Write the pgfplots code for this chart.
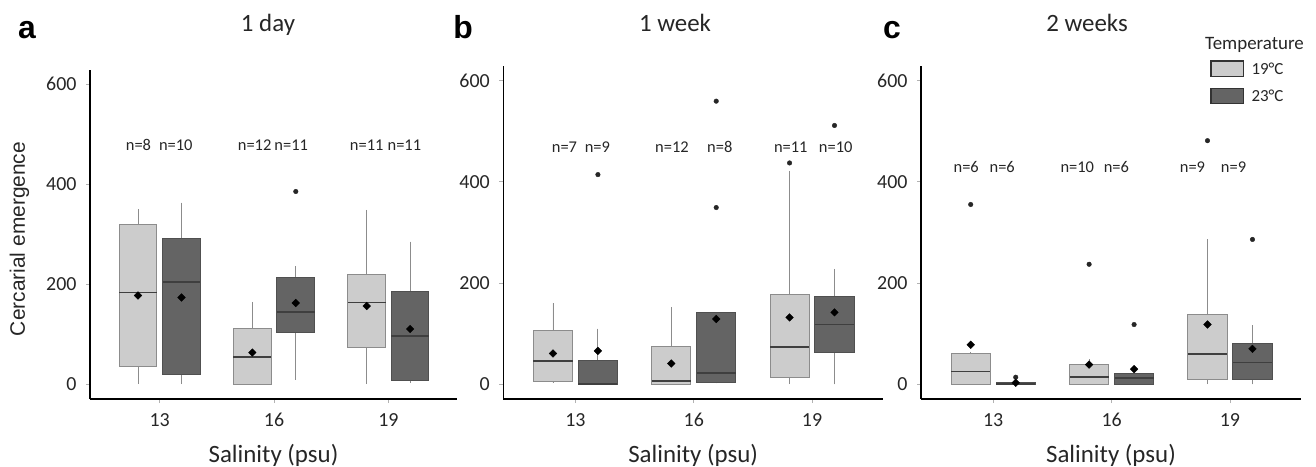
\documentclass[border=0pt]{standalone}
\usepackage{pgfplots}
\pgfplotsset{compat=1.18}
\usepgfplotslibrary{statistics}
\usepackage{fontspec}
\setmainfont{Carlito}
\newfontfamily\arial{Liberation Sans}
\definecolor{lfill}{HTML}{CCCCCC}
\definecolor{dfill}{HTML}{646464}
\definecolor{ledge}{HTML}{8C8C8C}
\definecolor{dedge}{HTML}{505050}
\definecolor{medc}{HTML}{3F3F3F}
\definecolor{whisk}{HTML}{8C8C8C}
\definecolor{txt}{HTML}{262626}
\pgfplotsset{
  panel/.style={
    scale only axis, anchor=south west,
    axis lines=left, axis line style={-, line width=1.3bp, black},
    xmin=-0.61, xmax=2.6,
    xtick={0,1,2}, xticklabels={13,16,19},
    ytick={0,200,400,600},
    tick align=outside, major tick length=4bp,
    tick style={line width=0.8bp, gray!60},
    ticklabel style={font=\fontsize{20}{22}\selectfont, text=txt},
    yticklabel style={xshift=-6bp},
    xticklabel style={yshift=-7bp},
    /pgf/number format/assume math mode=true,
    clip=false,
    xlabel={Salinity (psu)},
    xlabel style={font=\fontsize{25}{28}\selectfont, text=txt, at={(axis description cs:0.5,0)}, anchor=center, yshift=-56bp},
    boxplot/draw direction=y,
    boxplot/every median/.style={draw=medc, line width=1.6bp},
    boxplot/every whisker/.style={draw=whisk, line width=0.9bp},
    boxplot/draw/lower whisker/.code={\draw[/pgfplots/boxplot/every whisker/.try] (boxplot box cs:\pgfplotsboxplotvalue{lower quartile},0.5) -- (boxplot box cs:\pgfplotsboxplotvalue{lower whisker},0.5);},
    boxplot/draw/upper whisker/.code={\draw[/pgfplots/boxplot/every whisker/.try] (boxplot box cs:\pgfplotsboxplotvalue{upper quartile},0.5) -- (boxplot box cs:\pgfplotsboxplotvalue{upper whisker},0.5);},
  },
  lbox/.style={draw=ledge, fill=lfill, line width=1bp, solid, mark=none},
  dbox/.style={draw=dedge, fill=dfill, line width=1bp, solid, mark=none},
  outl/.style={only marks, mark=*, mark size=2.3bp, color=black!85},
  meanm/.style={only marks, mark=square*, mark size=2.7bp, mark options={rotate=45}, color=black},
}
\tikzset{nlab/.style={font=\fontsize{16.5}{18}\selectfont, text=txt}}
\newcommand{\bx}[7]{% style, pos, lw, lq, med, uq, uw
  \addplot+[#1, boxplot prepared={draw position=#2, lower whisker=#3, lower quartile=#4, median=#5, upper quartile=#6, upper whisker=#7, box extend=0.33}] coordinates {};}
\begin{document}
\begin{tikzpicture}
\path[use as bounding box] (0,0) rectangle (1316bp,-467bp);

% ---------- panel a ----------
\begin{axis}[panel, at={(90bp,-399bp)}, width=367bp, height=329bp, ymin=-30, ymax=628]
\bx{lbox}{-0.19}{0}{36}{183}{319}{350}
\bx{dbox}{0.19}{0}{20}{204}{291}{363}
\bx{lbox}{0.81}{0}{0}{54}{111}{165}
\bx{dbox}{1.19}{9}{104}{144}{213}{236}
\bx{lbox}{1.81}{0}{74}{163}{219}{349}
\bx{dbox}{2.19}{2}{8}{96}{186}{285}
\addplot[outl] coordinates {(1.19,385)};
\addplot[meanm] coordinates {(-0.19,177) (0.19,173) (0.81,63) (1.19,162) (1.81,156) (2.19,110)};
\node[nlab] at (axis cs:-0.186,478) {n=8};
\node[nlab] at (axis cs:0.14,478) {n=10};
\node[nlab] at (axis cs:0.83,478) {n=12};
\node[nlab] at (axis cs:1.15,478) {n=11};
\node[nlab] at (axis cs:1.81,478) {n=11};
\node[nlab] at (axis cs:2.14,478) {n=11};
\end{axis}

% ---------- panel b ----------
\begin{axis}[panel, at={(503.3bp,-399bp)}, width=379.7bp, height=333.3bp, ymin=-29, ymax=629]
\bx{lbox}{-0.19}{2}{5}{46}{107}{161}
\bx{dbox}{0.19}{0}{0}{1}{47}{110}
\bx{lbox}{0.81}{0}{0}{6}{74}{153}
\bx{dbox}{1.19}{2}{4}{22}{141}{141}
\bx{lbox}{1.81}{0}{14}{74}{178}{422}
\bx{dbox}{2.19}{0}{62}{118}{174}{228}
\addplot[outl] coordinates {(0.19,414) (1.19,559) (1.19,349) (1.81,437) (2.19,511)};
\addplot[meanm] coordinates {(-0.19,61) (0.19,66) (0.81,41) (1.19,129) (1.81,132) (2.19,142)};
\node[nlab] at (axis cs:-0.093,468) {n=7};
\node[nlab] at (axis cs:0.185,468) {n=9};
\node[nlab] at (axis cs:0.816,468) {n=12};
\node[nlab] at (axis cs:1.22,468) {n=8};
\node[nlab] at (axis cs:1.82,468) {n=11};
\node[nlab] at (axis cs:2.2,468) {n=10};
\end{axis}

% ---------- panel c ----------
\begin{axis}[panel, at={(921bp,-399bp)}, width=380bp, height=333.3bp, ymin=-29, ymax=629]
\bx{lbox}{-0.19}{0}{0}{25}{61}{64}
\bx{dbox}{0.19}{0}{0}{1}{3}{3}
\bx{lbox}{0.81}{0}{0}{15}{40}{49}
\bx{dbox}{1.19}{0}{0}{12}{22}{22}
\bx{lbox}{1.81}{0}{10}{60}{137}{286}
\bx{dbox}{2.19}{0}{10}{43}{81}{117}
\addplot[outl] coordinates {(-0.19,355) (0.19,14) (0.81,237) (1.19,118) (1.81,481) (2.19,286)};
\addplot[meanm] coordinates {(-0.19,78) (0.19,3) (0.81,39) (1.19,30) (1.81,118) (2.19,70)};
\node[nlab] at (axis cs:-0.228,429) {n=6};
\node[nlab] at (axis cs:0.076,429) {n=6};
\node[nlab] at (axis cs:0.71,429) {n=10};
\node[nlab] at (axis cs:1.04,429) {n=6};
\node[nlab] at (axis cs:1.683,429) {n=9};
\node[nlab] at (axis cs:2.03,429) {n=9};
\end{axis}

% ---------- titles, letters, y label, legend ----------
\node[font=\arial\bfseries\fontsize{32}{34}\selectfont, anchor=base, text=black] at (27bp,-38.3bp) {a};
\node[font=\arial\bfseries\fontsize{32}{34}\selectfont, anchor=base, text=black] at (463bp,-38.3bp) {b};
\node[font=\arial\bfseries\fontsize{32}{34}\selectfont, anchor=base, text=black] at (892bp,-38.3bp) {c};
\node[font=\fontsize{25}{28}\selectfont, anchor=base, text=txt] at (268bp,-31.5bp) {1 day};
\node[font=\fontsize{25}{28}\selectfont, anchor=base, text=txt] at (675bp,-31bp) {1 week};
\node[font=\fontsize{25}{28}\selectfont, anchor=base, text=txt] at (1087bp,-31bp) {2 weeks};
\node[rotate=90, font=\arial\fontsize{21}{23}\selectfont, text=txt] at (19.5bp,-239bp) {Cercarial emergence};

\node[font=\fontsize{19}{21}\selectfont, anchor=base, text=txt] at (1254.5bp,-49bp) {Temperature};
\draw[line width=1.5bp, black!80, fill=lfill] (1211bp,-61bp) rectangle (1243.3bp,-76.3bp);
\draw[line width=1.5bp, black!80, fill=dfill] (1211bp,-88.3bp) rectangle (1243.3bp,-103.3bp);
\node[font=\fontsize{17}{19}\selectfont, anchor=west, text=txt] at (1248bp,-69bp) {19°C};
\node[font=\fontsize{17}{19}\selectfont, anchor=west, text=txt] at (1248bp,-96bp) {23°C};
\end{tikzpicture}
\end{document}
